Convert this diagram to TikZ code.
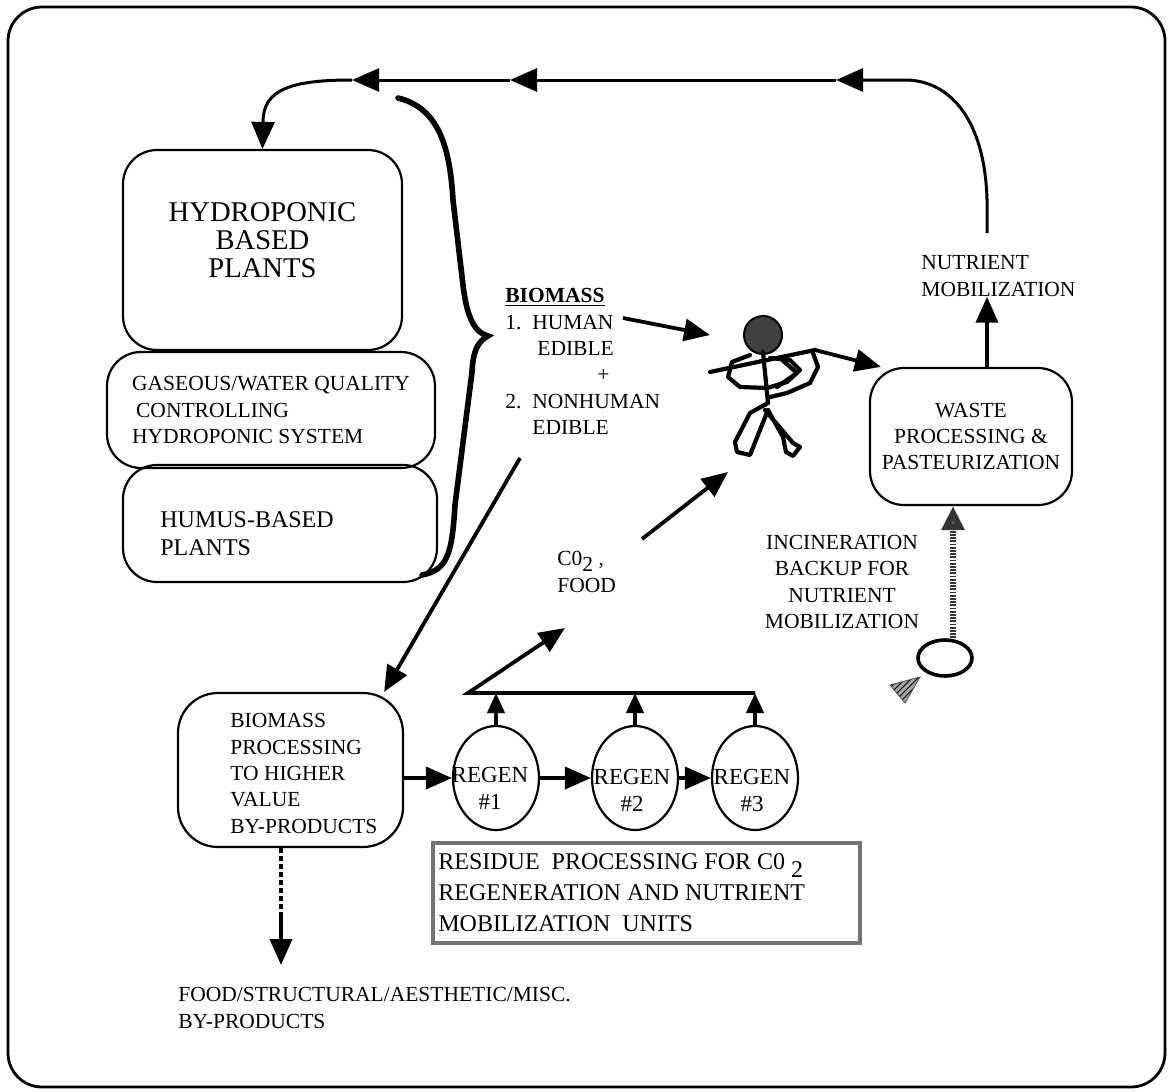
\documentclass[tikz,border=0pt]{standalone}
\usepackage{fontspec}
\setmainfont{Liberation Serif}
\usetikzlibrary{arrows.meta,shapes.geometric,patterns}
\begin{document}
\begin{tikzpicture}[x=0.5pt,y=-0.5pt,
  font=\fontsize{10.75}{13.2}\selectfont,
  box/.style={draw,rounded corners=17pt,line width=1.1pt,inner sep=0pt},
  regen/.style={draw,ellipse,line width=1.1pt,inner sep=0pt,minimum width=43pt,minimum height=52pt},
  txt/.style={inner sep=0pt,align=left},
  arr/.style={line width=1.9pt,-{Triangle[length=13pt,width=11pt]}},
  toparr/.style={line width=1.5pt,-{Triangle[length=13.5pt,width=11.5pt]}},
  uparr/.style={line width=1.9pt,-{Triangle[length=10pt,width=8.5pt]}},
  hatch/.style={line width=1.6pt,dash pattern=on 2.5pt off 1.5pt},
  incarr/.style={draw=black!80,line width=3pt,dash pattern=on 0.9pt off 0.7pt,-{Triangle[length=12pt,width=11pt,fill=black!65]}},
  man/.style={line width=2.1pt,line join=round,line cap=round}]

\useasboundingbox (0,0) rectangle (1168,1092);
\path[draw,line width=1.4pt,rounded corners=17pt] (8,7) rectangle (1165,1087);

\node[box,minimum width=139.5pt,minimum height=100pt] (hyd) at (262.5,250) {};
\node[box,minimum width=164pt,minimum height=58pt,align=left] (gas) at (271,410) {GASEOUS/WATER QUALITY\\\hspace*{2pt}CONTROLLING\\HYDROPONIC SYSTEM};
\node[box,minimum width=157pt,minimum height=58.5pt] (hum) at (280,523.5) {};
\node[box,rounded corners=20pt,minimum width=112.5pt,minimum height=77pt] (bpr) at (290.5,770) {};
\node[box,minimum width=101pt,minimum height=68.5pt,align=center] (waste) at (971,436.5) {WASTE\\PROCESSING \&\\PASTEURIZATION};
\node[regen] (r1) at (496,778) {};
\node[regen] (r2) at (635,778) {};
\node[regen] (r3) at (755,778) {};
\node[draw=black!55,line width=2pt,minimum width=213.5pt,minimum height=50pt,inner sep=0pt] (res) at (646.5,893) {};
\node[draw,ellipse,line width=1.8pt,minimum width=27pt,minimum height=18pt,inner sep=0pt] (ell) at (945,658) {};

\node[align=center,inner sep=0pt,font=\fontsize{14.3}{14}\selectfont] (hydtxt) at (262.5,240) {HYDROPONIC\\BASED\\PLANTS};
\node[txt,anchor=west,font=\fontsize{12}{14}\selectfont] (humtxt) at (160,534) {HUMUS-BASED\\PLANTS};
\node[txt,anchor=west] (bprtxt) at (230,773.5) {BIOMASS\\PROCESSING\\TO HIGHER\\VALUE\\BY-PRODUCTS};
\node[align=center,inner sep=0pt,font=\fontsize{11.5}{13.5}\selectfont] (t1) at (490,788) {REGEN\\\#1};
\node[align=center,inner sep=0pt,font=\fontsize{11.5}{13.5}\selectfont] (t2) at (632,790) {REGEN\\\#2};
\node[align=center,inner sep=0pt,font=\fontsize{11.5}{13.5}\selectfont] (t3) at (752,790) {REGEN\\\#3};
\node[txt,anchor=west,font=\fontsize{12}{15.5}\selectfont] (restxt) at (438,893) {RESIDUE\ \ PROCESSING FOR C0 \raisebox{-4pt}{2}\\REGENERATION AND NUTRIENT\\MOBILIZATION\ \ UNITS};
\node[txt,anchor=west] (nut) at (921,276) {NUTRIENT\\MOBILIZATION};
\node[txt,anchor=west] (co2) at (557,572) {C0\raisebox{-3pt}{2} ,\\FOOD};
\node[align=center,inner sep=0pt] (inc) at (842,582) {INCINERATION\\BACKUP FOR\\NUTRIENT\\MOBILIZATION};
\node[txt,anchor=north west] (bio) at (505,288) {\underline{\textbf{BIOMASS}}\\1.\ \ HUMAN\\\hspace*{16pt}EDIBLE\\\hspace*{46pt}+\\2.\ \ NONHUMAN\\\hspace*{13.5pt}EDIBLE};
\node[txt,anchor=west] (food) at (178,1008) {FOOD/STRUCTURAL/AESTHETIC/MISC.\\BY-PRODUCTS};

\coordinate (nstart) at (987,233);
\coordinate (a1) at (836,80);
\coordinate (a2) at (510,80);
\coordinate (a3) at (352,80);
\coordinate (hum1) at (623,318);
\coordinate (mouth) at (710,335);
\coordinate (hand) at (815,350);
\coordinate (belly) at (728,472);
\coordinate (co2s) at (642,539);
\coordinate (bios) at (520,458);
\coordinate (barL) at (468,693);
\coordinate (co2t) at (565,628);
\coordinate (hatchend) at (281,913);
\coordinate (foodtip) at (281,965);

\path[draw,toparr] (nstart) -- (987,200) .. controls (985,120) and (950,80) .. (905,80) -- (a1);
\path[draw,toparr] (a1) -- (a2);
\path[draw,toparr] (a2) -- (a3);
\path[draw,toparr] (a3) .. controls (290,80) and (263,90) .. (263,122) -- (hyd.north);
\path[draw,line width=2.8pt,line cap=round] (398,98) .. controls (440,108) and (450,150) .. (453,200) -- (463,285) .. controls (467,320) and (476,333) .. (488,336) .. controls (477,342) and (473,352) .. (472,372) -- (455,505) .. controls (452,555) and (447,570) .. (422,575);

\path[draw,arr] (hum1) -- (mouth);
\path[draw,arr] (hand) -- ([xshift=6pt]waste.north west);
\path[draw,arr] (waste.north -| nstart) -- (nut.south -| nstart);
\path[draw,arr] (co2s) -- (belly);
\path[draw,arr] (bios) -- ([xshift=-10pt]bpr.north east);
\path[draw,arr] (bpr.east |- r1) -- (r1);
\path[draw,arr] (r1) -- (r2);
\path[draw,arr] (r2) -- (r3);
\foreach \r in {r1,r2,r3}
  \path[draw,uparr] (\r.north) -- (\r.north |- barL);
\path[draw,arr] (r3.north |- barL) -- (barL) -- (co2t);
\path[draw,hatch] (bpr.south -| hatchend) -- (hatchend);
\path[draw,arr] (hatchend) -- (foodtip);
\path[draw,incarr] ([xshift=4pt]ell.north) -- ([xshift=4pt]ell.north |- waste.south);
\path[fill=black!35] (920,677) -- (890,685) -- (905,703) -- cycle;
\path[pattern=north east lines,pattern color=black,draw=black!70,thin] (920,677) -- (890,685) -- (905,703) -- cycle;

\path[draw,fill=black!75,line width=1pt] (763,335) circle[radius=19];
\path[draw,man] (710,372) -- (hand);
\path[draw,man] (763,352) -- (768,403);
\path[draw,man] (750,355) -- (732,362) -- (728,377) -- (740,387) -- (767,388) -- (787,382) -- (800,370) -- (790,360) -- (770,358);
\path[draw,man] (780,358) -- (797,373) -- (777,387);
\path[draw,man] (813,353) -- (818,367) -- (810,383) -- (787,393) -- (770,397);
\path[draw,man] (768,403) -- (750,413) -- (735,442) -- (737,452) -- (750,455) -- (760,430) -- (768,410);
\path[draw,man] (765,410) -- (793,443) -- (800,447) -- (793,456) -- (786,452) -- (783,437) -- (768,410);
\end{tikzpicture}
\end{document}
